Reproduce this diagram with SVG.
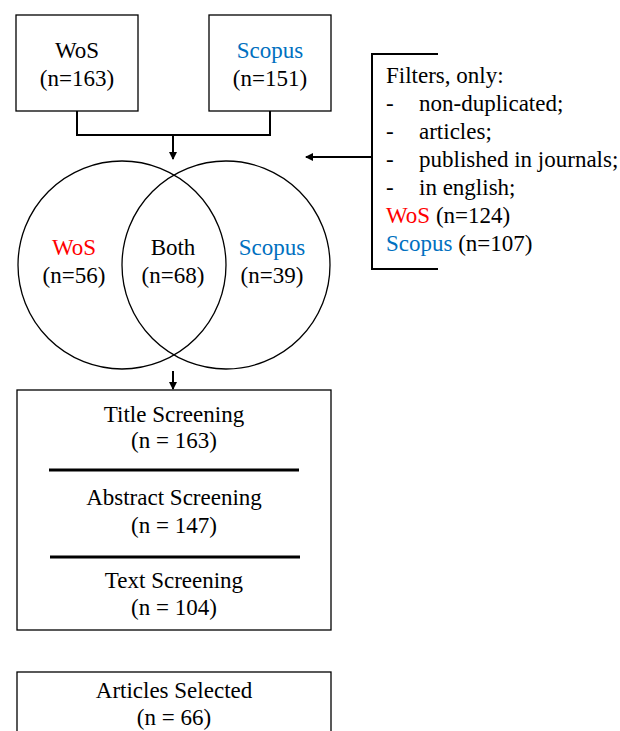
<svg xmlns="http://www.w3.org/2000/svg" width="620" height="731" viewBox="0 0 620 731">
<style>
text{font-family:"Liberation Serif","Times New Roman",serif;font-size:23px;fill:#000}
.c{text-anchor:middle}
.red{fill:#FF0000}
.blue{fill:#0070C0}
.box{fill:#fff;stroke:#000;stroke-width:1.3}
.circ{fill:none;stroke:#000;stroke-width:1.3}
.conn{fill:none;stroke:#000;stroke-width:2}
.sep{stroke:#000;stroke-width:3}
</style>
<defs>
<marker id="ah" markerWidth="8" markerHeight="8" refX="7" refY="4" orient="auto" markerUnits="userSpaceOnUse">
<path d="M0,0 L8,4 L0,8 Z" fill="#000"/>
</marker>
</defs>
<rect width="620" height="731" fill="#fff"/>
<g id="connectors">
<polyline class="conn" points="77,111 77,135 270,135 270,111"/>
<line class="conn" x1="173" y1="135" x2="173" y2="159" marker-end="url(#ah)"/>
<line class="conn" x1="372" y1="157" x2="306" y2="157" marker-end="url(#ah)"/>
<line class="conn" x1="173" y1="371" x2="173" y2="389" marker-end="url(#ah)"/>
</g>
<g id="wos">
<rect class="box" x="16" y="15" width="122" height="96"/>
<text class="c" x="77" y="58">WoS</text>
<text class="c" x="77" y="86">(n=163)</text>
</g>
<g id="scopus">
<rect class="box" x="209" y="15" width="122" height="96"/>
<text class="c blue" x="270" y="58">Scopus</text>
<text class="c" x="270" y="86">(n=151)</text>
</g>
<g id="filters">
<polyline class="conn" points="438,54 372,54 372,269 438,269"/>
<text x="386" y="83">Filters, only:</text>
<text x="386" y="111">-</text><text x="419" y="111">non-duplicated;</text>
<text x="386" y="139">-</text><text x="419" y="139">articles;</text>
<text x="386" y="167">-</text><text x="419" y="167">published in journals;</text>
<text x="386" y="195">-</text><text x="419" y="195">in english;</text>
<text x="386" y="223"><tspan class="red">WoS</tspan> (n=124)</text>
<text x="386" y="251"><tspan class="blue">Scopus</tspan> (n=107)</text>
</g>
<g id="venn">
<circle class="circ" cx="122" cy="265" r="104"/>
<circle class="circ" cx="226" cy="265" r="104"/>
<text class="c red" x="74" y="255">WoS</text>
<text class="c" x="74" y="283">(n=56)</text>
<text class="c" x="173" y="255">Both</text>
<text class="c" x="173" y="283">(n=68)</text>
<text class="c blue" x="272" y="255">Scopus</text>
<text class="c" x="272" y="283">(n=39)</text>
</g>
<g id="screening">
<rect class="box" x="17" y="390" width="314" height="240"/>
<text class="c" x="174" y="422">Title Screening</text>
<text class="c" x="174" y="448">(n = 163)</text>
<line class="sep" x1="49" y1="470" x2="299" y2="470"/>
<text class="c" x="174" y="505">Abstract Screening</text>
<text class="c" x="174" y="533">(n = 147)</text>
<line class="sep" x1="50" y1="557" x2="300" y2="557"/>
<text class="c" x="174" y="588">Text Screening</text>
<text class="c" x="174" y="615">(n = 104)</text>
</g>
<g id="selected">
<rect class="box" x="17" y="672" width="314" height="80"/>
<text class="c" x="174" y="698">Articles Selected</text>
<text class="c" x="174" y="725">(n = 66)</text>
</g>
</svg>
